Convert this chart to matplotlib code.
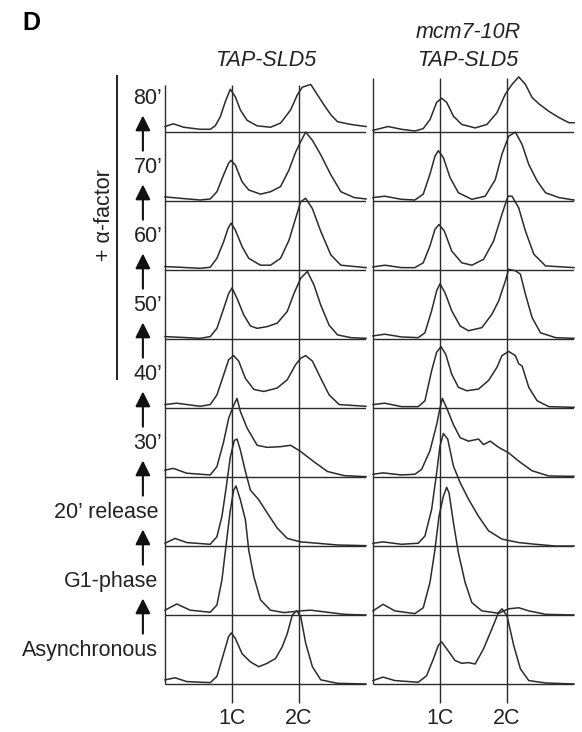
import numpy as np
import matplotlib
matplotlib.use("Agg")
import matplotlib.pyplot as plt

plt.rcParams['font.family'] = ['Liberation Sans', 'DejaVu Sans']

# row labels, bottom to top
row_labels = ["Asynchronous", "G1-phase", "20\u2019 release", "30\u2019", "40\u2019",
              "50\u2019", "60\u2019", "70\u2019", "80\u2019"]
dna_ticks = [1, 2]
dna_labels = ["1C", "2C"]

# DNA content (1C = 1, 2C = 2) vs. cell count, in row heights
# TAP-SLD5
wt_async = [(0, .06), (.15, .09), (.325, .035), (.675, .02), (.775, .11), (.875, .44),
            (.95, .69), (.99, .74), (1.05, .66), (1.15, .44), (1.275, .32), (1.4, .25),
            (1.525, .30), (1.65, .37), (1.75, .54), (1.825, .73), (1.9, 1.0), (1.965, 1.06),
            (2.025, .98), (2.1, .59), (2.2, .25), (2.325, .06), (2.575, .01), (3.0, 0.0)]
wt_g1 = [(0, .07), (.175, .16), (.375, .07), (.675, .04), (.775, .145), (.85, .51),
         (.915, 1.04), (.975, 1.52), (1.025, 1.81), (1.06, 1.87), (1.125, 1.67), (1.2, 1.38),
         (1.25, .94), (1.325, .56), (1.425, .22), (1.575, .07), (1.775, .035), (2.025, .06),
         (2.175, .07), (2.425, .04), (2.675, .01), (3.0, 0.0)]
wt_20 = [(0, .04), (.15, .11), (.325, .05), (.675, .025), (.775, .135), (.85, .43),
         (.915, .86), (.975, 1.29), (1.035, 1.53), (1.075, 1.55), (1.125, 1.39), (1.2, 1.08),
         (1.275, .81), (1.4, .67), (1.525, .48), (1.675, .26), (1.825, .11), (2.025, .06),
         (2.275, .04), (2.575, .015), (3.0, .005)]
wt_30 = [(0, .10), (.125, .125), (.325, .055), (.675, .03), (.775, .15), (.875, .51),
         (.95, .85), (1.025, 1.04), (1.075, 1.14), (1.125, .95), (1.225, .71), (1.375, .46),
         (1.525, .43), (1.725, .44), (1.875, .46), (2.025, .37), (2.225, .22), (2.425, .08),
         (2.675, .02), (3.0, .005)]
wt_40 = [(0, .05), (.175, .07), (.525, .025), (.675, .05), (.775, .19), (.875, .48),
         (.95, .70), (1.025, .76), (1.1, .68), (1.2, .43), (1.325, .27), (1.475, .24),
         (1.675, .29), (1.825, .41), (1.95, .63), (2.025, .72), (2.1, .76), (2.2, .68),
         (2.325, .43), (2.45, .19), (2.6, .05), (3.0, .025)]
wt_50 = [(0, .035), (.225, .025), (.525, .01), (.675, .035), (.775, .155), (.875, .44),
         (.95, .66), (1.0, .74), (1.075, .59), (1.175, .35), (1.275, .19), (1.375, .155),
         (1.525, .18), (1.675, .23), (1.825, .40), (1.925, .66), (2.025, .88), (2.125, .98),
         (2.225, .78), (2.325, .49), (2.45, .20), (2.575, .06), (2.775, .02), (3.0, .01)]
wt_60 = [(0, .05), (.225, .04), (.525, .025), (.675, .04), (.775, .17), (.875, .41),
         (.94, .60), (.985, .68), (1.05, .58), (1.15, .34), (1.25, .17), (1.425, .07),
         (1.575, .07), (1.725, .17), (1.85, .43), (1.95, .75), (2.025, .99), (2.1, 1.04),
         (2.2, .89), (2.325, .56), (2.475, .22), (2.625, .07), (3.0, .035)]
wt_70 = [(0, .06), (.225, .04), (.525, .015), (.675, .03), (.775, .135), (.875, .38),
         (.95, .55), (.985, .59), (1.05, .52), (1.15, .28), (1.25, .16), (1.425, .10),
         (1.575, .135), (1.725, .21), (1.85, .45), (1.95, .71), (2.025, .86), (2.1, 1.0),
         (2.2, .88), (2.325, .67), (2.475, .38), (2.625, .135), (2.825, .05), (3.0, .03)]
wt_80 = [(0, .08), (.125, .12), (.275, .07), (.525, .04), (.675, .04), (.75, .09),
         (.825, .22), (.9, .44), (.975, .62), (1.05, .51), (1.125, .32), (1.225, .17),
         (1.375, .09), (1.575, .07), (1.725, .13), (1.875, .32), (1.975, .54), (2.05, .65),
         (2.175, .69), (2.275, .54), (2.375, .39), (2.475, .25), (2.575, .15), (2.775, .11),
         (3.0, .08)]

# mcm7-10R TAP-SLD5
mut_async = [(0, .05), (.15, .10), (.325, .05), (.675, .025), (.8, .12), (.9, .36),
             (.975, .56), (1.025, .61), (1.1, .51), (1.225, .34), (1.325, .30), (1.425, .31),
             (1.525, .29), (1.65, .51), (1.775, .80), (1.875, 1.04), (1.925, 1.09), (2.0, .99),
             (2.1, .56), (2.2, .22), (2.325, .05), (2.575, .015), (3.0, 0.0)]
mut_g1 = [(0, .06), (.15, .155), (.325, .06), (.625, .02), (.75, .105), (.85, .47),
          (.925, .95), (.985, 1.43), (1.05, 1.72), (1.1, 1.85), (1.135, 1.77), (1.2, 1.34),
          (1.275, .90), (1.375, .47), (1.475, .18), (1.625, .06), (1.875, .025), (2.025, .09),
          (2.175, .105), (2.325, .06), (2.575, .01), (3.0, 0.0)]
mut_20 = [(0, .04), (.15, .06), (.425, .025), (.675, .04), (.775, .145), (.875, .53),
          (.95, 1.06), (1.0, 1.45), (1.05, 1.63), (1.115, 1.55), (1.2, 1.16), (1.3, .92),
          (1.425, .68), (1.575, .43), (1.725, .22), (1.925, .10), (2.175, .05), (2.425, .025),
          (2.725, 0.0), (3.0, 0.0)]
mut_30 = [(0, .04), (.15, .06), (.425, .03), (.625, .04), (.725, .11), (.85, .38),
          (.95, .76), (1.0, 1.0), (1.035, 1.14), (1.1, 1.0), (1.2, .76), (1.3, .57),
          (1.425, .52), (1.575, .55), (1.65, .47), (1.75, .52), (1.875, .43), (2.025, .35),
          (2.175, .23), (2.375, .09), (2.625, .015), (3.0, .01)]
mut_40 = [(0, .05), (.175, .07), (.425, .02), (.675, .02), (.775, .105), (.875, .54),
          (.95, .81), (1.015, .89), (1.085, .78), (1.175, .49), (1.275, .30), (1.4, .25),
          (1.575, .275), (1.725, .40), (1.85, .59), (1.925, .76), (2.025, .82), (2.125, .76),
          (2.175, .64), (2.225, .61), (2.325, .30), (2.45, .105), (2.625, .02), (3.0, .01)]
mut_50 = [(0, .045), (.175, .07), (.425, .03), (.675, .02), (.775, .09), (.875, .41),
          (.95, .70), (1.0, .80), (1.075, .67), (1.175, .41), (1.3, .19), (1.425, .12),
          (1.625, .165), (1.775, .36), (1.875, .55), (1.975, .84), (2.025, 1.01), (2.125, .99),
          (2.2, .94), (2.275, .65), (2.375, .31), (2.5, .09), (2.725, .02), (3.0, .01)]
mut_60 = [(0, .045), (.175, .07), (.425, .035), (.625, .035), (.75, .105), (.85, .35),
          (.925, .59), (.985, .66), (1.065, .565), (1.175, .275), (1.325, .105), (1.475, .07),
          (1.65, .155), (1.8, .42), (1.925, .81), (2.015, 1.07), (2.075, 1.07), (2.175, .90),
          (2.275, .565), (2.4, .23), (2.575, .06), (3.0, .035)]
mut_70 = [(0, .05), (.175, .07), (.425, .025), (.625, .015), (.75, .10), (.85, .39),
          (.925, .65), (.975, .73), (1.05, .63), (1.15, .34), (1.275, .12), (1.475, .025),
          (1.675, .07), (1.825, .31), (1.925, .68), (2.025, .94), (2.125, 1.0), (2.225, .82),
          (2.325, .53), (2.45, .29), (2.575, .12), (2.775, .05), (3.0, .015)]
mut_80 = [(0, .025), (.225, .08), (.425, .04), (.625, .015), (.75, .05), (.85, .18),
          (.95, .43), (1.025, .49), (1.1, .43), (1.2, .23), (1.325, .11), (1.525, .06),
          (1.7, .11), (1.85, .28), (1.975, .55), (2.075, .69), (2.175, .80), (2.275, .69),
          (2.375, .50), (2.475, .41), (2.625, .30), (2.775, .21), (2.925, .135), (3.0, .135)]

wt_curves = [wt_async, wt_g1, wt_20, wt_30, wt_40, wt_50, wt_60, wt_70, wt_80]
mut_curves = [mut_async, mut_g1, mut_20, mut_30, mut_40, mut_50, mut_60, mut_70, mut_80]

ink = '#2b2b2b'
txt = '#222222'
fs = 15.5
fig = plt.figure(figsize=(5.82, 7.32), dpi=100)

# panels: 201 px wide, rows 69 px high
ax_l = fig.add_axes([165 / 582, 27.3 / 732, 201 / 582, 624.4 / 732])
ax_r = fig.add_axes([373 / 582, 27.3 / 732, 201 / 582, 624.4 / 732])

for ax, curves, top in [(ax_l, wt_curves, 8.68), (ax_r, mut_curves, 8.78)]:
    ax.set_xlim(0, 3)
    ax.set_ylim(-0.3, 8.75)
    ax.axis('off')
    n = len(curves)
    ax.hlines(range(n), 0, 3, color=ink, lw=1.0)
    ax.vlines(0, 0, top, color=ink, lw=1.0, clip_on=False)
    ax.vlines(dna_ticks, -0.28, top, color=ink, lw=1.0, clip_on=False)
    for k, pts in enumerate(curves):
        x, y = zip(*pts)
        ax.plot(x, np.array(y) + k, color=ink, lw=1.1, clip_on=False,
                solid_joinstyle='round')
    for t, lab in zip(dna_ticks, dna_labels):
        ax.text(t, -0.575, lab, ha='center', va='baseline', fontsize=fs, color=txt)

# titles
ax_l.text(1.5, 8.96, "TAP-SLD5", ha='center', va='baseline', fontsize=fs,
          style='italic', color=txt)
ax_r.text(1.42, 8.96, "TAP-SLD5", ha='center', va='baseline', fontsize=fs,
          style='italic', color=txt)
ax_r.text(1.42, 9.36, "mcm7-10R", ha='center', va='baseline', fontsize=fs,
          style='italic', color=txt)
fig.text(22 / 582, 1 - 30 / 732, "D", fontsize=18, fontweight='bold', va='baseline')

# row labels and arrows
for k, lab in enumerate(row_labels):
    if k >= 3:
        ax_l.text(-0.04, k + 0.48, lab, ha='right', va='center', fontsize=fs, color=txt)
    else:
        ax_l.text(-0.10, k + 0.48, lab, ha='right', va='center', fontsize=fs, color=txt)
    if k >= 1:
        ax_l.annotate("", xy=(-0.33, k + 0.24), xytext=(-0.33, k - 0.27),
                      arrowprops=dict(arrowstyle="-|>,head_length=0.9,head_width=0.45",
                                      mutation_scale=10, lw=1.5, color='#111',
                                      shrinkA=0, shrinkB=0),
                      annotation_clip=False)

# alpha-factor bracket
ax_l.vlines(-0.716, 4.41, 8.83, color='#111', lw=1.3, clip_on=False)
ax_l.text(-0.9, 6.8, "+ \u03b1-factor", rotation=90, ha='center', va='center',
          fontsize=fs, color=txt)

fig.savefig("out.png", dpi=100)
